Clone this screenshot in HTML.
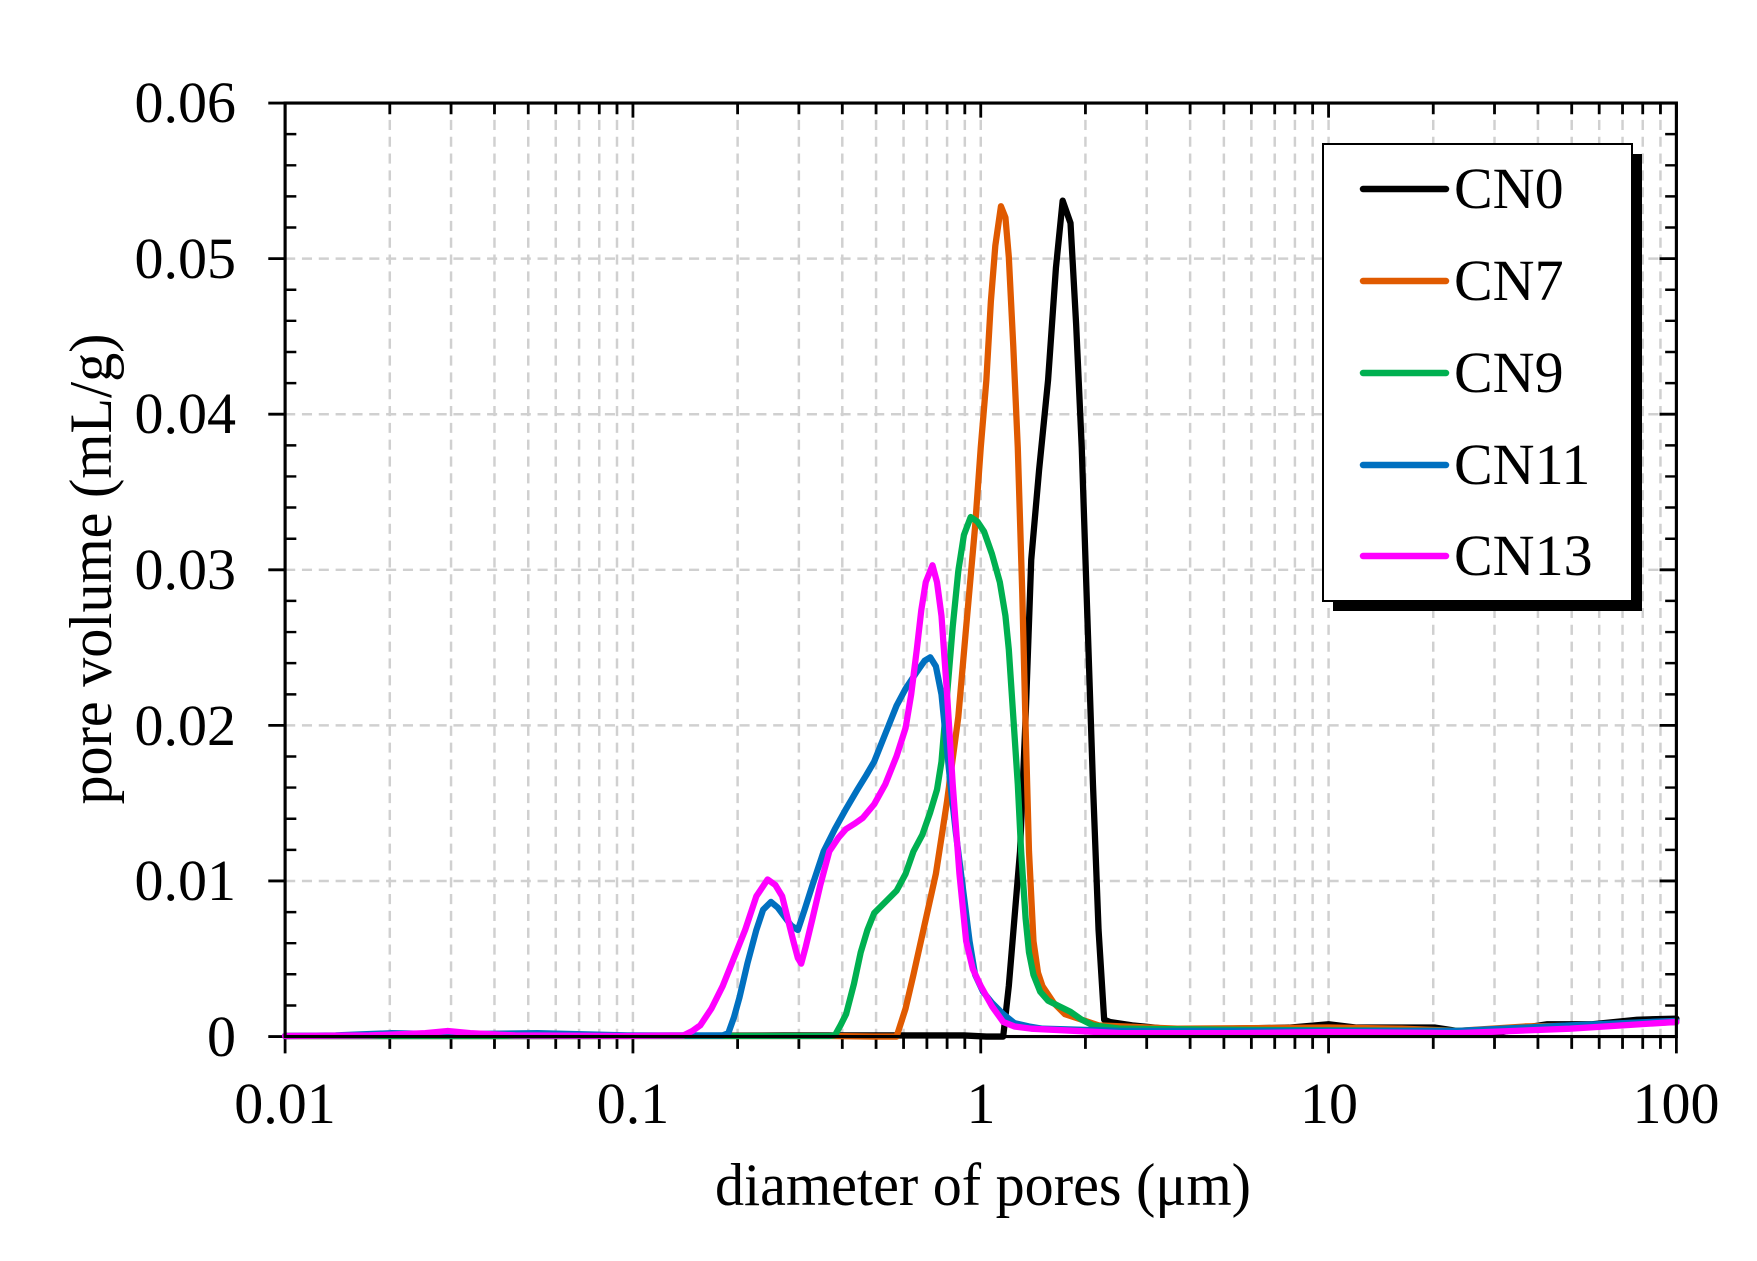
<!DOCTYPE html>
<html><head><meta charset="utf-8"><style>
html,body{margin:0;padding:0;background:#fff;}
svg{display:block;}
text{font-family:"Liberation Serif","Times New Roman",serif;fill:#000;}
</style></head><body>
<svg width="1757" height="1261" viewBox="0 0 1757 1261" xmlns="http://www.w3.org/2000/svg">
<defs>
<g id="dec" stroke="#d0d0d0" stroke-width="2.2" stroke-dasharray="9,6">
<line x1="93.3" y1="93" x2="93.3" y2="925"/><line x1="147.9" y1="93" x2="147.9" y2="925"/>
<line x1="186.6" y1="93" x2="186.6" y2="925"/><line x1="216.7" y1="93" x2="216.7" y2="925"/>
<line x1="241.2" y1="93" x2="241.2" y2="925"/><line x1="262" y1="93" x2="262" y2="925"/>
<line x1="280" y1="93" x2="280" y2="925"/><line x1="295.8" y1="93" x2="295.8" y2="925"/>
<line x1="310" y1="93" x2="310" y2="925"/>
</g>
<g id="dect" stroke="#000" stroke-width="2.5">
<line x1="93.3" y1="925" x2="93.3" y2="936"/><line x1="147.9" y1="925" x2="147.9" y2="936"/>
<line x1="186.6" y1="925" x2="186.6" y2="936"/><line x1="216.7" y1="925" x2="216.7" y2="936"/>
<line x1="241.2" y1="925" x2="241.2" y2="936"/><line x1="262" y1="925" x2="262" y2="936"/>
<line x1="280" y1="925" x2="280" y2="936"/><line x1="295.8" y1="925" x2="295.8" y2="936"/>
<line x1="310" y1="925" x2="310" y2="940"/>
<line x1="93.3" y1="93" x2="93.3" y2="103"/><line x1="147.9" y1="93" x2="147.9" y2="103"/>
<line x1="186.6" y1="93" x2="186.6" y2="103"/><line x1="216.7" y1="93" x2="216.7" y2="103"/>
<line x1="241.2" y1="93" x2="241.2" y2="103"/><line x1="262" y1="93" x2="262" y2="103"/>
<line x1="280" y1="93" x2="280" y2="103"/><line x1="295.8" y1="93" x2="295.8" y2="103"/>
<line x1="310" y1="93" x2="310" y2="106"/>
</g>
</defs>
<g transform="translate(-1,-1.3) scale(1.122)">
<use href="#dec" x="255"/><use href="#dec" x="565"/><use href="#dec" x="875"/><use href="#dec" x="1185"/>
<g stroke="#d0d0d0" stroke-width="2.2" stroke-dasharray="9,6">
<line x1="255" y1="231.67" x2="1495" y2="231.67"/><line x1="255" y1="370.33" x2="1495" y2="370.33"/>
<line x1="255" y1="509" x2="1495" y2="509"/><line x1="255" y1="647.67" x2="1495" y2="647.67"/>
<line x1="255" y1="786.33" x2="1495" y2="786.33"/>
</g>
<use href="#dect" x="255"/><use href="#dect" x="565"/><use href="#dect" x="875"/><use href="#dect" x="1185"/>
<line x1="255" y1="925" x2="255" y2="940" stroke="#000" stroke-width="2.5"/>
<g stroke="#000" stroke-width="2.5">
<line x1="240" y1="93" x2="255" y2="93"/><line x1="240" y1="231.67" x2="255" y2="231.67"/>
<line x1="240" y1="370.33" x2="255" y2="370.33"/><line x1="240" y1="509" x2="255" y2="509"/>
<line x1="240" y1="647.67" x2="255" y2="647.67"/><line x1="240" y1="786.33" x2="255" y2="786.33"/>
<line x1="240" y1="925" x2="255" y2="925"/>
<line x1="1480" y1="231.67" x2="1495" y2="231.67"/><line x1="1480" y1="370.33" x2="1495" y2="370.33"/>
<line x1="1480" y1="509" x2="1495" y2="509"/><line x1="1480" y1="647.67" x2="1495" y2="647.67"/>
<line x1="1480" y1="786.33" x2="1495" y2="786.33"/>
</g>
<g stroke="#000" stroke-width="2.2">
<path d="M255 120.7h10M255 148.5h10M255 176.2h10M255 203.9h10
M255 259.4h10M255 287.1h10M255 314.9h10M255 342.6h10
M255 398.1h10M255 425.8h10M255 453.5h10M255 481.3h10
M255 536.7h10M255 564.5h10M255 592.2h10M255 620h10
M255 675.4h10M255 703.1h10M255 730.9h10M255 758.6h10
M255 814.1h10M255 841.8h10M255 869.5h10M255 897.3h10"/>
<path d="M1495 120.7h-10M1495 148.5h-10M1495 176.2h-10M1495 203.9h-10
M1495 259.4h-10M1495 287.1h-10M1495 314.9h-10M1495 342.6h-10
M1495 398.1h-10M1495 425.8h-10M1495 453.5h-10M1495 481.3h-10
M1495 536.7h-10M1495 564.5h-10M1495 592.2h-10M1495 620h-10
M1495 675.4h-10M1495 703.1h-10M1495 730.9h-10M1495 758.6h-10
M1495 814.1h-10M1495 841.8h-10M1495 869.5h-10M1495 897.3h-10"/>
</g>
<g fill="none" stroke-width="5.6" stroke-linejoin="round" stroke-linecap="round">
<polyline stroke="#000" points="255,924.5 500,924.5 700,924 780,924 860,924 880,925 895,925 900,880 905,820 910,760 915,640 920,500 927,420 935,340 942,240 948,180 955,200 960,290 965,400 970,550 975,700 980,830 985,910 990,912 1010,915 1040,918 1100,918 1150,917 1185,914 1210,917 1280,917 1300,920 1340,921 1360,917 1380,914 1420,914 1460,910 1495,909"/>
<polyline stroke="#e05a00" points="255,924.5 600,924.5 740,924.5 780,925 800,925 808,900 815,870 825,825 835,780 845,715 855,640 862,560 870,470 875,400 880,340 884,270 888,220 893,185 897,195 900,230 904,310 908,400 912,530 915,650 918,760 922,840 926,868 930,880 940,895 950,905 980,915 1050,918 1185,917 1250,918 1300,920 1360,916 1420,915 1495,912"/>
<polyline stroke="#00b050" points="255,924.5 600,924.5 740,924.5 745,924 750,915 755,905 762,878 768,850 774,830 780,815 790,805 800,795 808,780 815,760 823,745 830,725 836,705 840,680 845,620 850,560 855,510 860,478 866,462 872,466 878,475 885,495 892,520 897,550 900,580 904,640 908,700 911,760 915,820 918,850 922,870 928,885 935,893 945,898 955,903 965,910 975,915 1000,918 1100,919 1300,920 1495,912"/>
<polyline stroke="#0070c0" points="255,924.5 300,924 350,922 400,923 480,922 560,924 645,924 650,922 655,908 660,890 667,860 675,830 681,812 688,805 694,810 700,818 706,826 712,830 718,812 725,790 735,760 745,740 755,722 765,705 773,692 780,680 790,655 800,630 808,615 818,600 825,590 830,587 835,595 840,620 844,660 848,700 853,745 860,800 865,840 870,870 877,885 885,895 895,905 905,913 918,916 930,918 1000,920 1100,920 1300,920 1400,915 1495,911"/>
<polyline stroke="#ff00ff" points="255,924.5 330,924 380,922 400,920 420,922 460,924 560,924.5 610,924 618,920 625,915 635,900 645,880 655,855 665,830 675,800 685,785 692,790 698,800 703,820 708,840 712,855 715,860 719,845 725,820 732,790 740,760 748,748 755,740 763,735 770,730 780,718 790,700 800,675 808,650 813,620 818,580 822,545 826,520 832,505 836,520 840,550 845,620 850,700 856,780 862,840 868,865 875,880 885,898 895,912 905,916 920,918 1000,922 1100,922 1185,921 1300,922 1400,918 1495,912"/>
</g>
<rect x="255" y="93" width="1240" height="832" fill="none" stroke="#000" stroke-width="2.8"/>
</g>
<rect x="1333" y="154" width="309" height="457" fill="#000"/>
<rect x="1323" y="144" width="309" height="457" fill="#fff" stroke="#000" stroke-width="2"/>
<g stroke-width="6.5" stroke-linecap="round">
<line x1="1363" y1="189" x2="1446" y2="189" stroke="#000"/>
<line x1="1363" y1="281" x2="1446" y2="281" stroke="#e05a00"/>
<line x1="1363" y1="373" x2="1446" y2="373" stroke="#00b050"/>
<line x1="1363" y1="465" x2="1446" y2="465" stroke="#0070c0"/>
<line x1="1363" y1="556" x2="1446" y2="556" stroke="#ff00ff"/>
</g>
<g font-size="58">
<text x="1454" y="208">CN0</text>
<text x="1454" y="300">CN7</text>
<text x="1454" y="392">CN9</text>
<text x="1454" y="484">CN11</text>
<text x="1454" y="575">CN13</text>
</g>
<g font-size="58" text-anchor="end">
<text x="236" y="122">0.06</text>
<text x="236" y="278">0.05</text>
<text x="236" y="433">0.04</text>
<text x="236" y="589">0.03</text>
<text x="236" y="745">0.02</text>
<text x="236" y="900">0.01</text>
<text x="236" y="1056">0</text>
</g>
<g font-size="58" text-anchor="middle">
<text x="285" y="1123">0.01</text>
<text x="633" y="1123">0.1</text>
<text x="981" y="1123">1</text>
<text x="1329" y="1123">10</text>
<text x="1676" y="1123">100</text>
</g>
<text x="983" y="1205" font-size="60" text-anchor="middle" textLength="536" lengthAdjust="spacingAndGlyphs">diameter of pores (μm)</text>
<text transform="translate(111,569) rotate(-90)" font-size="60" text-anchor="middle" textLength="471" lengthAdjust="spacingAndGlyphs">pore volume (mL/g)</text>
</svg>
</body></html>
